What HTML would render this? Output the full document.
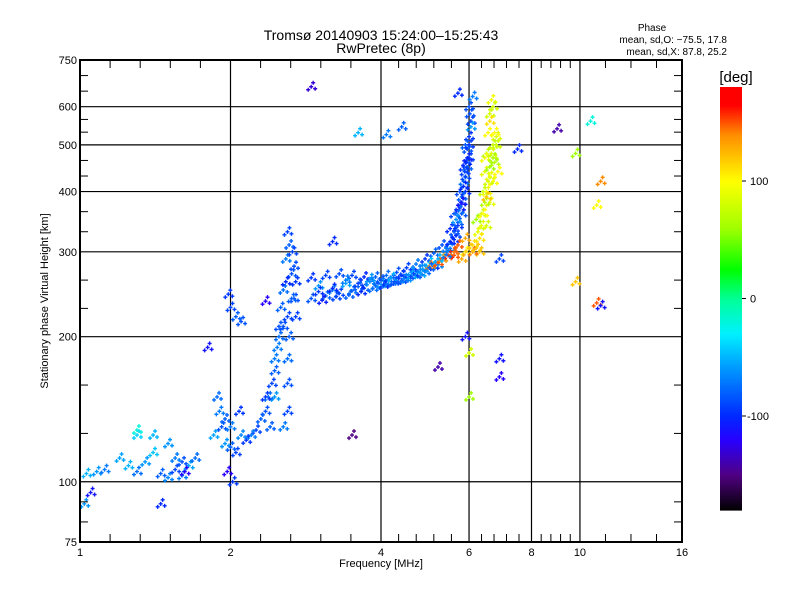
<!DOCTYPE html>
<html><head><meta charset="utf-8"><style>
html,body{margin:0;padding:0;background:#fff;}
svg{display:block;font-family:"Liberation Sans",sans-serif;}
</style></head><body>
<svg id="chart" width="800" height="600" viewBox="0 0 800 600" xmlns="http://www.w3.org/2000/svg">
<rect width="800" height="600" fill="#fff"/>
<text x="381" y="40" text-anchor="middle" font-size="14">Tromsø 20140903 15:24:00–15:25:43</text>
<text x="381" y="53" text-anchor="middle" font-size="14">RwPretec (8p)</text>
<text x="652" y="31" text-anchor="middle" font-size="10">Phase</text>
<text x="727" y="43" text-anchor="end" font-size="10">mean, sd,O: −75.5, 17.8</text>
<text x="727" y="55" text-anchor="end" font-size="10">mean, sd,X:  87.8, 25.2</text>
<g id="grid"></g>
<g id="marks"></g>
<rect x="80" y="60" width="602" height="482" fill="none" stroke="#000" stroke-width="2"/>
<g id="axes"></g>
<text x="381" y="567" text-anchor="middle" font-size="11">Frequency [MHz]</text>
<text x="48" y="301" text-anchor="middle" font-size="11" transform="rotate(-90 48 301)">Stationary phase Virtual Height [km]</text>
<g id="cbar"></g>
<text x="736" y="82" text-anchor="middle" font-size="15">[deg]</text>
</svg>
<script>
const xTicks=[1,2,4,6,8,10,16];
const yTicks=[75,100,200,300,400,500,600,750];
const cbTicks=[100,0,-100];
const freqs=[2.9,3.1,3.3,3.5,3.7,3.9,4.1,4.3,4.5,4.7,4.9,5.1,5.3,5.5,5.65,5.8,5.9,5.95,6.0,6.0,
2.9,3.1,3.3,3.5,3.7,3.9,4.1,4.3,4.5,4.7,4.9,5.1,5.3,5.5,5.6,5.75,5.85,5.9,6.05,6.1,
3.0,3.4,3.8,4.2,4.6,5.0,5.4,5.7,5.85,6.0,3.2,3.6,4.0,4.4,4.8,5.2,5.6,5.8,5.95,6.05,
5.0,5.3,5.6,5.9,6.1,6.25,6.35,6.4,6.45,6.5,6.55,6.6,6.65,5.2,5.6,5.8,6.3,6.5,6.6,6.7,6.75,6.8,6.2,6.45,6.6,6.7,5.45,6.0,
2.0,2.05,1.98,2.1,2.6,2.62,2.58,2.65,2.7,2.55,2.52,2.5,2.48,2.45,2.42,2.38,2.35,2.3,2.25,2.2,2.15,2.62,2.6,2.6,2.6,2.55,2.4,2.45,2.68,2.66,
1.9,1.92,1.95,2.0,2.05,2.1,1.88,1.97,2.02,1.85,
1.03,1.08,1.12,1.2,1.3,1.35,1.4,1.45,1.5,1.55,1.6,1.65,1.7,1.3,1.4,1.5,1.6,1.05,1.02,1.45,1.25,1.55,1.62,
2.9,3.6,4.1,4.4,5.7,9.0,9.8,10.5,11.0,10.8,10.8,11.0,9.8,7.5,6.9,5.9,6.0,6.9,6.9,6.0,5.2,3.5,3.2,2.35,1.8,1.3,
3.0,3.2,3.4,3.6,3.8,4.0,4.2,4.4,4.6,4.8,5.0,5.2,5.4,3.05,3.25,3.45,3.65,3.85,4.05,4.25,4.45,4.65,4.85,
5.5,5.6,5.7,5.75,5.8,5.85,5.9,5.95,6.0,6.02,5.65,5.72,5.78,5.88,5.92,
6.3,6.35,6.4,6.45,6.5,6.55,6.6,6.65,6.7,6.75,6.5,6.6,6.7,6.8,6.85,5.7,5.9,6.1,6.2,
2.5,2.55,2.6,2.45,2.35,2.65,2.58,2.68,2.7,1.95,2.0,2.08];
const heights=[240,243,246,249,252,255,258,261,264,268,273,280,290,305,325,360,400,450,520,600,
265,268,270,268,266,266,268,272,278,283,290,298,310,335,360,400,450,500,560,630,
255,258,260,265,272,285,305,345,420,470,250,254,257,262,270,282,318,380,490,545,
280,290,295,300,310,330,360,400,440,480,530,580,620,285,300,290,300,340,380,420,460,520,350,470,560,600,295,305,
230,220,245,215,330,310,290,270,260,250,230,210,190,170,160,150,140,135,128,125,122,200,180,160,140,130,130,150,240,300,
140,130,120,118,115,125,150,105,100,125,
104,105,106,112,105,110,115,104,102,106,103,108,112,125,125,120,110,95,90,90,108,112,105,
660,530,525,545,640,540,480,560,420,375,235,232,260,490,290,200,185,180,165,150,173,125,315,237,190,128,
248,252,262,258,264,262,260,268,268,276,278,290,296,238,242,244,248,252,256,260,264,270,276,
315,330,340,370,390,410,430,470,500,580,350,365,380,440,460,
320,340,360,380,400,420,450,480,500,530,390,430,470,500,440,310,320,300,305,
200,210,220,180,150,240,260,280,220,135,130,140];
const phases=[-85,-80,-90,-75,-85,-80,-70,-90,-60,-85,-75,-95,-80,-70,-90,-85,-100,-80,-95,-85,
-95,-90,-85,-90,-100,-80,-75,-85,-90,-70,-95,-80,-85,-100,-90,-85,-95,-80,-90,-70,
-60,-55,-65,-50,-60,-45,-70,-80,-75,-90,-70,-80,-60,-85,-55,-65,-100,-90,-85,-60,
140,130,150,100,110,90,80,75,90,70,100,80,95,150,145,130,120,80,90,100,70,85,60,95,110,80,160,120,
-90,-80,-95,-85,-90,-80,-70,-85,-95,-75,-80,-85,-70,-80,-90,-75,-85,-80,-90,-70,-95,-80,-75,-85,-90,-70,-80,-60,-85,-90,
-70,-85,-60,-80,-90,-65,-75,-120,-95,-55,
-50,-60,-70,-55,-75,-60,-45,-80,-65,-90,-70,-55,-75,-40,-50,-60,-85,-110,-60,-100,-50,-70,-120,
-130,-50,-70,-80,-100,-140,60,-20,140,100,150,-110,120,-100,-90,-110,80,-110,-120,60,-140,-150,-100,-120,-110,-20,
-95,-100,-70,-90,-60,-85,-75,-95,-55,-65,-80,-50,-70,-105,-90,-80,-100,-75,-95,-85,-70,-90,-60,
-100,-85,-95,-110,-80,-100,-90,-105,-95,-85,-60,-75,-110,-90,-100,
110,90,100,70,95,80,60,85,75,100,120,90,65,80,100,150,130,145,120,
-75,-85,-90,-70,-95,-80,-100,-85,-90,-80,-70,-95];

const NS="http://www.w3.org/2000/svg";
const X0=80,X1=682,Y0=542,Y1=60;
function xs(f){return X0+(X1-X0)*Math.log2(f)/4;}
function ys(h){return Y0-(Y0-Y1)*Math.log10(h/75);}
function el(t,a,p){const e=document.createElementNS(NS,t);for(const k in a)e.setAttribute(k,a[k]);p.appendChild(e);return e;}
const stops=[[-180,[0,0,0]],[-150,[80,0,130]],[-120,[40,0,255]],[-100,[0,40,255]],[-60,[0,150,255]],[-30,[0,240,255]],[0,[0,255,150]],[25,[0,255,0]],[60,[160,255,0]],[100,[255,255,0]],[140,[255,140,0]],[165,[255,0,0]],[180,[255,0,0]]];
function col(v){v=Math.max(-180,Math.min(180,v));for(let i=1;i<stops.length;i++){if(v<=stops[i][0]){const a=stops[i-1],b=stops[i],t=(v-a[0])/(b[0]-a[0]);const c=a[1].map((q,j)=>Math.round(q+(b[1][j]-q)*t));return`rgb(${c})`;}}return"rgb(255,0,0)";}
const grid=document.getElementById('grid'),axes=document.getElementById('axes');
xTicks.forEach(f=>{const x=xs(f);
 if(f>1&&f<16){const g=el('line',{x1:x,x2:x,y1:Y1,y2:Y0,stroke:'#000','stroke-width':1.2},grid);
 
 }
 const t=el('text',{x:x,y:556,'text-anchor':'middle','font-size':11},axes);t.textContent=f;
 
 });
for(let i=0;i<xTicks.length-1;i++){const a=xs(xTicks[i]),b=xs(xTicks[i+1]);const n=(i==xTicks.length-2)?4:5;
 for(let k=1;k<n;k++){const x=a+(b-a)*k/n;
  el('line',{x1:x,x2:x,y1:Y0,y2:Y0-8,stroke:'#000'},axes);el('line',{x1:x,x2:x,y1:Y1,y2:Y1+8,stroke:'#000'},axes);}}
yTicks.forEach(h=>{const y=ys(h);
 if(h>75&&h<750){const g=el('line',{x1:X0,x2:X1,y1:y,y2:y,stroke:'#000','stroke-width':1.2},grid);
 
 }
 const t=el('text',{x:77,y:y+4,'text-anchor':'end','font-size':11},axes);t.textContent=h;
 
 });
for(let i=0;i<yTicks.length-1;i++){const a=ys(yTicks[i]),b=ys(yTicks[i+1]);for(let k=1;k<3;k++){const y=a+(b-a)*k/3;
 el('line',{x1:X0,x2:X0+8,y1:y,y2:y,stroke:'#000'},axes);el('line',{x1:X1,x2:X1-8,y1:y,y2:y,stroke:'#000'},axes);}}
const marks=document.getElementById('marks');
for(let i=0;i<freqs.length;i++){const x=xs(freqs[i]),y=ys(heights[i]),c=col(phases[i]);
 for(const[dx,dy] of [[0,0],[4,2],[-3,3],[2,-4]]){
 const p=el('path',{d:`M${x+dx-2},${y+dy}h4M${x+dx},${y+dy-2}v4`,stroke:c,'stroke-width':1.4},marks);
 
 }}
const cb=document.getElementById('cbar');const CB0=510,CB1=87;
function cy(v){return CB0-(CB0-CB1)*(v+180)/360;}
for(let v=-180;v<180;v+=2){el('rect',{x:720,y:cy(v+2),width:22,height:cy(v)-cy(v+2)+0.6,fill:col(v+1)},cb);}
cbTicks.forEach(v=>{const y=cy(v);el('line',{x1:742,x2:746,y1:y,y2:y,stroke:'#000'},cb);
 const t=el('text',{x:v<0?747:750,y:y+4,'font-size':11},cb);t.textContent=v;
 
 });
</script>
</body></html>
